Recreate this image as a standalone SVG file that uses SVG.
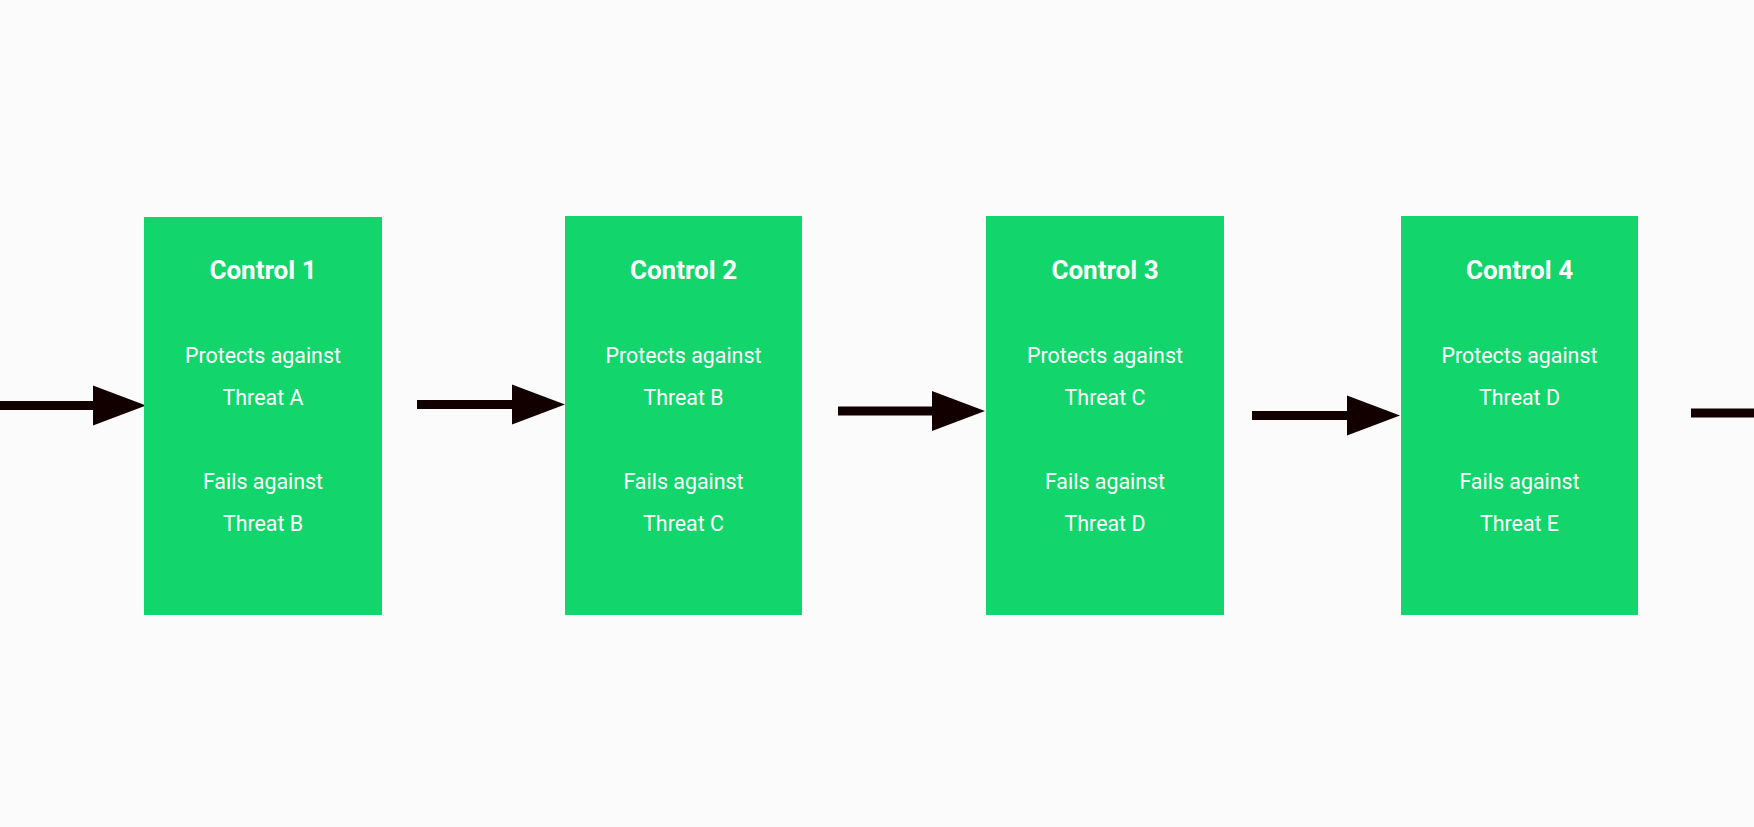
<svg xmlns="http://www.w3.org/2000/svg" width="1754" height="827" viewBox="0 0 1754 827">
<style>
.box{fill:#12D66B;}
.t{font-family:Roboto,"Liberation Sans",sans-serif;fill:#FFFFFF;text-anchor:middle;}
.title{font-size:26px;font-weight:bold;}
.body{font-size:21.4px;}
.conn{stroke:#120000;stroke-width:9;fill:none;}
</style>
<defs>
<marker id="head" markerUnits="userSpaceOnUse" markerWidth="54" markerHeight="40" refX="0" refY="20" orient="auto" overflow="visible">
<path d="M0,0 L53,20 L0,40 Z" fill="#120000"/>
</marker>
</defs>
<rect width="1754" height="827" fill="#FCFBFC"/>
<g id="connectors">
<line class="conn" x1="0" y1="405.5" x2="93" y2="405.5" marker-end="url(#head)"/>
<line class="conn" x1="417" y1="404.5" x2="512" y2="404.5" marker-end="url(#head)"/>
<line class="conn" x1="838" y1="411" x2="932" y2="411" marker-end="url(#head)"/>
<line class="conn" x1="1252" y1="415.5" x2="1347" y2="415.5" marker-end="url(#head)"/>
<line class="conn" x1="1691" y1="413" x2="1754" y2="413"/>
</g>
<g id="control1">
<rect class="box" x="144" y="217" width="238" height="398"/>
<text class="t title" x="263" y="279">Control 1</text>
<text class="t body" x="263" y="363">Protects against</text>
<text class="t body" x="263" y="405">Threat A</text>
<text class="t body" x="263" y="489">Fails against</text>
<text class="t body" x="263" y="531">Threat B</text>
</g>
<g id="control2">
<rect class="box" x="565" y="216" width="237" height="399"/>
<text class="t title" x="683.5" y="279">Control 2</text>
<text class="t body" x="683.5" y="363">Protects against</text>
<text class="t body" x="683.5" y="405">Threat B</text>
<text class="t body" x="683.5" y="489">Fails against</text>
<text class="t body" x="683.5" y="531">Threat C</text>
</g>
<g id="control3">
<rect class="box" x="986" y="216" width="238" height="399"/>
<text class="t title" x="1105" y="279">Control 3</text>
<text class="t body" x="1105" y="363">Protects against</text>
<text class="t body" x="1105" y="405">Threat C</text>
<text class="t body" x="1105" y="489">Fails against</text>
<text class="t body" x="1105" y="531">Threat D</text>
</g>
<g id="control4">
<rect class="box" x="1401" y="216" width="237" height="399"/>
<text class="t title" x="1519.5" y="279">Control 4</text>
<text class="t body" x="1519.5" y="363">Protects against</text>
<text class="t body" x="1519.5" y="405">Threat D</text>
<text class="t body" x="1519.5" y="489">Fails against</text>
<text class="t body" x="1519.5" y="531">Threat E</text>
</g>
</svg>
